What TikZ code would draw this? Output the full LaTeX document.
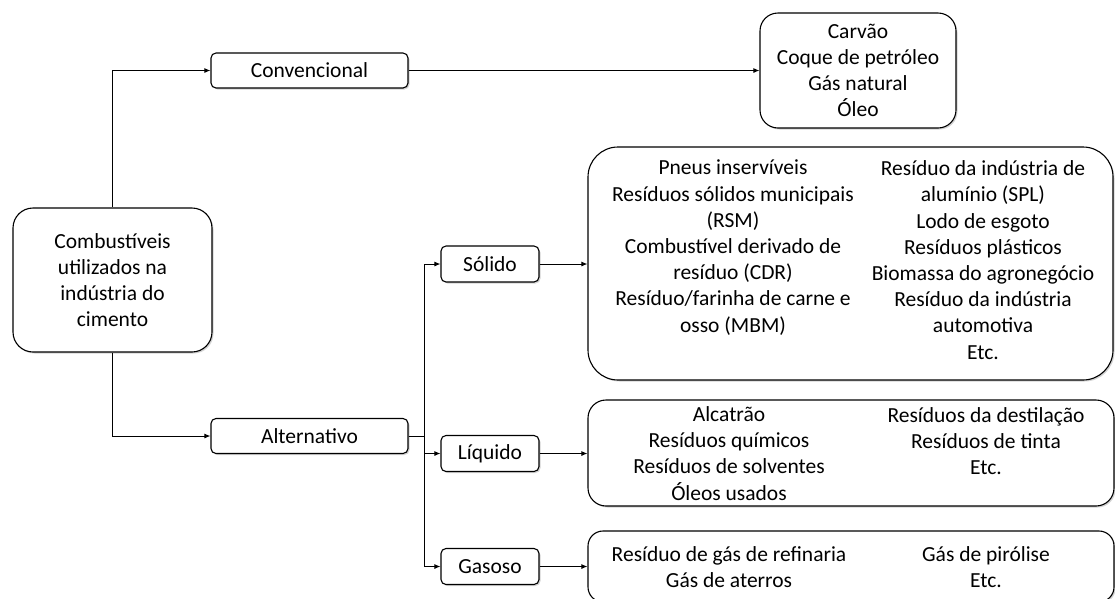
\documentclass[tikz,border=0pt]{standalone}
\usepackage{fontspec}
\setmainfont{Carlito}
\usetikzlibrary{arrows.meta,shadows}

\begin{document}
\begin{tikzpicture}[x=1pt, y=-1pt,
    every node/.style={font=\fontsize{21.5}{26.2}\selectfont, align=center, inner sep=0pt},
    box/.style={draw, line width=1.1pt, fill=white, rounded corners=5pt,
      drop shadow={shadow xshift=1.5pt, shadow yshift=-1.5pt, opacity=0.35}},
    typebox/.style={box, minimum width=197pt, minimum height=35pt},
    statebox/.style={box, minimum width=98pt, minimum height=36pt},
    link/.style={line width=1pt, -{Latex[length=6pt,width=5pt]}}]
    \clip (0,0) rectangle (1115,598);
    \node[box, rounded corners=20pt, minimum width=199pt, minimum height=144pt] (fuel) at (112.5,280)
      {Combustíveis\\utilizados na\\indústria do\\cimento};
    \node[typebox] (conv) at (309.5,70.5) {Convencional};
    \node[typebox] (alt) at (309.5,436) {Alternativo};
    \node[box, rounded corners=18pt, minimum width=196pt, minimum height=115pt] (fossil) at (858,70.5)
      {Carvão\\Coque de petróleo\\Gás natural\\Óleo};
    \node[statebox] (solido) at (490,264) {Sólido};
    \node[statebox] (liquido) at (490,453.5) {Líquido};
    \node[statebox] (gasoso) at (490,566.5) {Gasoso};
    \node[box, rounded corners=30pt, minimum width=525pt, minimum height=233pt] (slist) at (850.5,263.5) {};
    \node[box, rounded corners=18pt, minimum width=526pt, minimum height=106pt] (llist) at (851,453) {};
    \node[box, rounded corners=15pt, minimum width=526pt, minimum height=71pt] (glist) at (851,566.5) {};
    \node (slist-1) at (733,247.5) {Pneus inservíveis\\Resíduos sólidos municipais\\(RSM)\\Combustível derivado de\\resíduo (CDR)\\Resíduo/farinha de carne e\\osso (MBM)};
    \node (slist-2) at (983,260) {Resíduo da indústria de\\alumínio (SPL)\\Lodo de esgoto\\Resíduos plásticos\\Biomassa do agronegócio\\Resíduo da indústria\\automotiva\\Etc.};
    \node (llist-1) at (729,453.5) {Alcatrão\\Resíduos químicos\\Resíduos de solventes\\Óleos usados};
    \node (llist-2) at (986,441) {Resíduos da destilação\\Resíduos de tinta\\Etc.};
    \node (glist-1) at (729,567) {Resíduo de gás de refinaria\\Gás de aterros};
    \node (glist-2) at (986,567) {Gás de pirólise\\Etc.};
    \coordinate (fork) at (424,436);
    \draw[link] (fuel.north) |- (conv.west);
    \draw[link] (fuel.south) |- (alt.west);
    \draw[link] (conv.east) -- (conv.east -| fossil.west);
    \draw[link] (alt.east) -- (fork) |- (solido.west);
    \draw[link] (alt.east) -- (fork) |- (liquido.west);
    \draw[link] (alt.east) -- (fork) |- (gasoso.west);
    \draw[link] (solido.east) -- (solido.east -| slist.west);
    \draw[link] (liquido.east) -- (liquido.east -| llist.west);
    \draw[link] (gasoso.east) -- (gasoso.east -| glist.west);
\end{tikzpicture}
\end{document}
